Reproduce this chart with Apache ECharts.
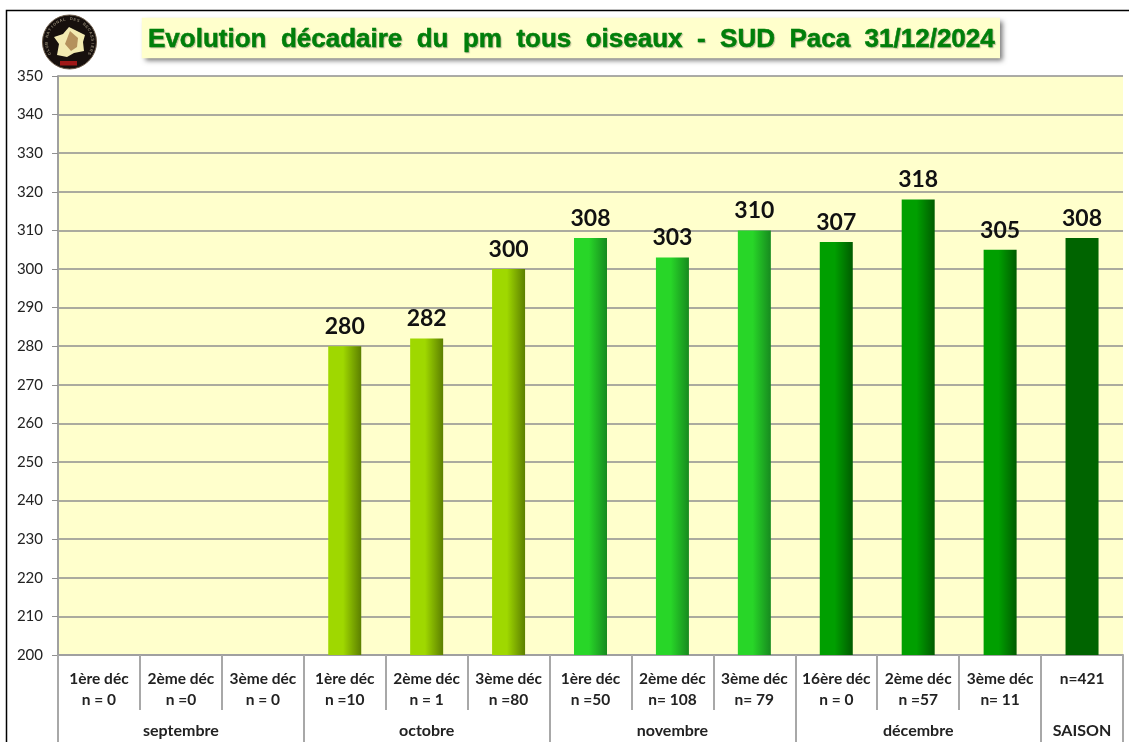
<!DOCTYPE html>
<html>
<head>
<meta charset="utf-8">
<title>Evolution décadaire</title>
<script src="https://cdn.jsdelivr.net/npm/echarts@6/dist/echarts.min.js"></script>
<style>
html, body { margin: 0; padding: 0; background: #fff; }
#main { width: 1129px; height: 742px; }
</style>
</head>
<body>
<div id="main"></div>
<script>
var decades = ['1ère déc\nn = 0', '2ème déc\nn =0', '3ème déc\nn = 0',
	'1ère déc\nn =10', '2ème déc\nn = 1', '3ème déc\nn =80',
	'1ère déc\nn =50', '2ème déc\nn= 108', '3ème déc\nn= 79',
	'16ère déc\nn = 0', '2ème déc\nn =57', '3ème déc\nn= 11',
	'n=421\n '];
var months = ['', 'septembre', '', '', 'octobre', '', '', 'novembre', '', '', 'décembre', '', 'SAISON'];
var pmValues = [null, null, null, 280, 282, 300, 308, 303, 310, 307, 318, 305, 308];
var yTicks = { min: 200, max: 350, step: 10 };
var titleText = 'Evolution  décadaire  du  pm  tous  oiseaux  -  SUD  Paca  31/12/2024';
var logoText = 'CLUB NATIONAL DES BECASSIERS';

// couleur des barres par groupe
function barColor(index) {
	var c;
	if (index < 6) c = ['#9fd800', '#5c7f00'];
	else if (index < 9) c = ['#28d628', '#178a1f'];
	else if (index < 12) c = ['#009f00', '#005c00'];
	else c = ['#006400', '#006400'];
	return new echarts.graphic.LinearGradient(0, 0, 1, 0, [
		{ offset: 0, color: c[0] },
		{ offset: 0.45, color: c[0] },
		{ offset: 1, color: c[1] }
	]);
}

var barData = [];
for (var i = 0; i < pmValues.length; i++) {
	barData.push({ value: pmValues[i], itemStyle: { color: barColor(i) } });
}

// logo
var logo = [
	{ type: 'polyline', shape: { points: [[6.5, 742], [6.5, 10.5], [1129, 10.5]] }, style: { stroke: '#000', lineWidth: 1.5, fill: null } },
	{ type: 'circle', shape: { cx: 69.5, cy: 42, r: 27 }, style: { fill: '#17100d', stroke: '#6a5a48', lineWidth: 1 } },
	{ type: 'polygon', shape: { points: [[69, 27], [75, 30], [85, 35], [83, 42], [84, 51], [74, 53], [67, 57], [57, 55], [59, 44], [54, 37], [63, 34]] }, style: { fill: '#f2eab0' } },
	{ type: 'polygon', shape: { points: [[70, 31], [78, 38], [77, 47], [71, 51], [65, 44]] }, style: { fill: '#b4915c' } },
	{ type: 'rect', shape: { x: 60, y: 61, width: 17, height: 4.5 }, style: { fill: '#a01818' } }
];
for (var k = 0; k < logoText.length; k++) {
	var a = (-120 + k * 240 / (logoText.length - 1)) * Math.PI / 180;
	logo.push({
		type: 'text',
		x: 69.5 + 23 * Math.sin(a),
		y: 42 - 23 * Math.cos(a),
		rotation: -a,
		style: { text: logoText.charAt(k), fill: '#8f8570', font: 'bold 4px Liberation Sans', align: 'center', verticalAlign: 'middle' }
	});
}

var chart = echarts.init(document.getElementById('main'));
var option = {
	animation: false,
	backgroundColor: '#fff',
	title: {
		text: titleText,
		left: 142,
		top: 18,
		padding: [9, 5, 5, 6],
		backgroundColor: '#ffffcc',
		shadowColor: 'rgba(0,0,0,0.55)',
		shadowBlur: 5,
		shadowOffsetX: 3,
		shadowOffsetY: 3,
		textStyle: {
			fontFamily: 'Liberation Sans',
			fontWeight: 'bold',
			fontSize: 26,
			color: '#007f0a',
			textBorderColor: '#007f0a',
			textBorderWidth: 0.5,
			textShadowColor: 'rgba(0,0,0,0.2)',
			textShadowBlur: 1,
			textShadowOffsetX: 1,
			textShadowOffsetY: 1
		}
	},
	grid: { left: 58, right: 6, top: 76, bottom: 87, backgroundColor: '#ffffcc', show: true, borderWidth: 0 },
	xAxis: [{
		type: 'category',
		data: decades,
		axisLine: { lineStyle: { color: '#a0a0a0', width: 2 } },
		axisTick: { show: true, length: 55, lineStyle: { color: '#a8a8a8', width: 2 } },
		axisLabel: {
			interval: 0,
			margin: 13,
			lineHeight: 21,
			fontFamily: 'Lato',
			fontWeight: 'bold',
			fontSize: 15.5,
			color: '#222'
		}
	}, {
		type: 'category',
		position: 'bottom',
		data: months,
		axisLine: { show: false },
		axisTick: {
			show: true,
			length: 87,
			lineStyle: { color: '#a8a8a8', width: 2 },
			interval: function (index) { return index % 3 === 0; }
		},
		axisLabel: {
			margin: 68,
			interval: function (index, value) { return value !== ''; },
			fontFamily: 'Lato',
			fontWeight: 'bold',
			fontSize: 16,
			color: '#222'
		}
	}],
	yAxis: {
		type: 'value',
		min: yTicks.min,
		max: yTicks.max,
		interval: yTicks.step,
		axisLine: { show: true, lineStyle: { color: '#a0a0a0', width: 2 } },
		axisTick: { show: true, length: 6, lineStyle: { color: '#909090', width: 1 } },
		axisLabel: { margin: 15, fontFamily: 'Lato', fontSize: 15, color: '#222' },
		splitLine: { lineStyle: { color: '#8f8f8f', width: 1.5 } }
	},
	series: [{
		type: 'bar',
		data: barData,
		barWidth: 33,
		label: {
			show: true,
			position: 'top',
			distance: 8,
			fontFamily: 'Lato',
			fontWeight: 'bold',
			fontSize: 23,
			color: '#111'
		}
	}],
	graphic: logo
};
chart.setOption(option);
</script>
</body>
</html>
